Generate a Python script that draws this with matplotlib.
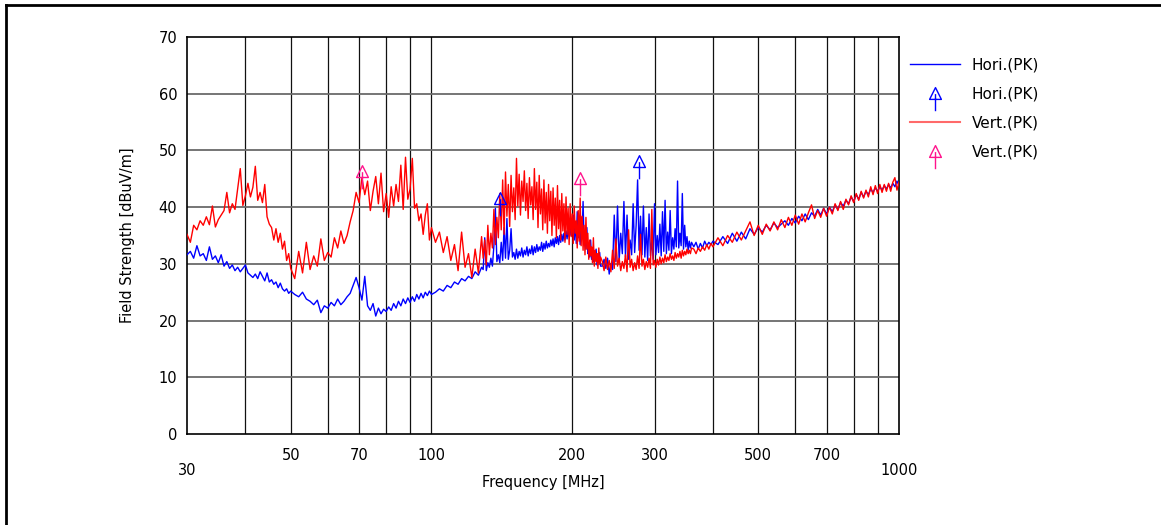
import numpy as np
import matplotlib
matplotlib.use('Agg')
import matplotlib.pyplot as plt
from matplotlib.path import Path
from matplotlib.lines import Line2D

# ---- sweep data, split by band ----
# 30-50 MHz
freq_a = [30.0, 30.5, 31.0, 31.5, 32.0, 32.5, 33.0, 33.5, 34.0, 34.5, 35.0, 35.5, 36.0, 36.5,
          37.0, 37.5, 38.0, 38.5, 39.0, 39.5, 40.0, 40.5, 41.0, 41.5, 42.0, 42.5, 43.0, 43.5,
          44.0, 44.5, 45.0, 45.5, 46.0, 46.5, 47.0, 47.5, 48.0, 48.5, 49.0, 49.5, 50.0]
hori_a = [31.6, 32.2, 31.0, 33.2, 31.4, 31.8, 30.6, 33.0, 30.8, 31.4, 30.2, 31.6, 29.6, 30.4,
          29.2, 29.8, 28.8, 29.4, 28.6, 29.2, 29.8, 28.4, 28.0, 27.6, 28.2, 27.4, 28.6, 27.8,
          27.0, 28.4, 26.8, 27.2, 26.4, 26.8, 25.8, 26.6, 25.6, 25.2, 25.6, 24.8, 25.2]
vert_a = [35.2, 33.8, 36.8, 36.0, 37.6, 36.8, 38.3, 36.9, 40.2, 36.5, 37.8, 38.6, 39.4, 42.6,
          39.0, 40.6, 39.6, 43.2, 46.8, 40.3, 42.0, 44.2, 41.8, 43.5, 47.2, 41.2, 42.6, 40.8,
          44.0, 38.3, 37.0, 36.4, 34.2, 36.2, 33.8, 35.4, 32.6, 34.0, 30.6, 31.8, 29.2]

# 51-100 MHz
freq_b = [51, 52, 53, 54, 55, 56, 57, 58, 59, 60, 61, 62, 63, 64, 65, 66, 67, 68, 69, 70,
          71, 72, 73, 74, 75, 76, 77, 78, 79, 80, 81, 82, 83, 84, 85, 86, 87, 88, 89, 90,
          91, 92, 93, 94, 95, 96, 97, 98, 99, 100]
hori_b = [24.6, 24.2, 25.0, 23.8, 23.4, 22.8, 23.6, 21.4, 22.6, 22.2, 23.2, 22.6, 23.8, 22.8,
          23.4, 24.2, 24.8, 26.2, 27.6, 25.8, 23.6, 27.8, 22.6, 21.8, 23.0, 20.8, 22.2, 21.2,
          22.0, 21.6, 22.4, 21.8, 23.0, 22.2, 23.4, 22.6, 23.8, 23.0, 24.0, 23.2, 24.2, 23.4,
          24.6, 23.8, 24.8, 24.0, 25.0, 24.4, 25.2, 24.6]
vert_b = [27.4, 32.2, 28.4, 33.8, 29.0, 31.4, 29.6, 34.4, 30.6, 32.0, 31.2, 34.6, 32.8, 35.8,
          33.6, 35.0, 37.4, 39.4, 42.6, 40.8, 45.2, 42.2, 44.6, 39.4, 42.8, 45.4, 40.6, 46.0,
          39.2, 42.4, 38.2, 43.6, 40.2, 44.0, 41.0, 47.4, 39.6, 48.8, 41.4, 43.2, 48.6, 39.8,
          40.6, 37.6, 38.8, 35.2, 38.6, 40.6, 34.2, 36.4]

# 102-128 MHz
freq_c = [102, 104, 106, 108, 110, 112, 114, 116, 118, 120, 122, 124, 126, 128]
hori_c = [25.0, 25.6, 25.2, 26.2, 25.8, 26.8, 26.4, 27.4, 27.0, 27.8, 27.4, 28.6, 28.0, 29.4]
vert_c = [33.8, 35.6, 32.0, 34.8, 30.6, 33.4, 28.8, 35.6, 29.4, 31.8, 27.6, 32.6, 28.4, 34.8]

# 129-230 MHz
freq_d = [129, 130, 131, 132, 133, 134, 135, 136, 137, 138, 139, 140,
          141, 142, 143, 144, 145, 146, 147, 148, 149, 150, 151, 152,
          153, 154, 155, 156, 157, 158, 159, 160, 161, 162, 163, 164,
          165, 166, 167, 168, 169, 170, 171, 172, 173, 174, 175, 176,
          177, 178, 179, 180, 181, 182, 183, 184, 185, 186, 187, 188,
          189, 190, 191, 192, 193, 194, 195, 196, 197, 198, 199, 200,
          201, 202, 203, 204, 205, 206, 207, 208, 209, 210, 211, 212,
          213, 214, 215, 216, 217, 218, 219, 220, 221, 222, 223, 224,
          225, 226, 227, 228, 229, 230]
hori_d = [29.0, 34.6, 28.8, 30.2, 29.4, 31.0, 29.6, 33.2, 39.8, 30.4, 31.6, 30.2,
          33.8, 30.6, 36.4, 31.0, 38.0, 30.8, 32.4, 36.2, 31.2, 32.0, 30.8, 32.6,
          31.0, 32.2, 31.4, 32.8, 31.2, 32.4, 31.6, 33.0, 31.4, 32.6, 31.8, 33.2,
          31.6, 33.0, 32.0, 33.4, 32.2, 33.0, 32.4, 33.8, 32.2, 33.6, 32.6, 34.0,
          32.8, 33.6, 33.0, 34.2, 33.2, 34.4, 33.0, 34.6, 33.6, 34.8, 33.4, 35.0,
          33.8, 35.2, 34.0, 35.4, 34.2, 35.8, 34.4, 36.0, 34.8, 36.6, 35.0, 35.4,
          38.6, 34.2, 37.4, 33.6, 39.2, 34.6, 36.0, 33.4, 38.2, 35.2, 41.0, 33.8,
          35.6, 32.6, 36.4, 31.8, 33.6, 31.2, 34.2, 30.8, 32.8, 30.4, 31.6, 30.8,
          32.6, 29.8, 31.4, 30.2, 32.0, 29.6]
vert_d = [31.0, 34.2, 29.8, 36.8, 31.6, 35.4, 32.8, 39.6, 33.4, 38.2, 34.6, 42.4,
          36.0, 44.8, 35.2, 46.2, 38.4, 44.0, 36.6, 45.6, 39.2, 43.4, 37.8, 48.6,
          40.2, 45.8, 38.6, 44.6, 41.0, 46.4, 39.4, 44.2, 38.0, 45.2, 40.4, 43.6,
          37.8, 46.8, 39.6, 44.4, 36.4, 45.6, 38.8, 43.2, 36.0, 44.8, 37.2, 42.6,
          35.4, 44.0, 37.6, 42.8, 35.0, 43.4, 36.8, 41.6, 34.6, 43.8, 36.2, 41.2,
          34.2, 42.4, 35.8, 40.6, 33.8, 41.8, 35.2, 39.8, 33.4, 40.6, 34.8, 38.8,
          33.6, 40.2, 35.4, 37.6, 32.8, 39.4, 34.0, 41.6, 33.2, 38.4, 32.4, 36.8,
          31.6, 38.2, 32.6, 35.4, 30.8, 34.2, 31.4, 33.0, 30.2, 34.6, 29.6, 32.4,
          30.4, 31.8, 29.2, 32.8, 30.0, 31.2]

# 232-360 MHz
freq_e = [232, 234, 236, 238, 240, 242, 244, 246, 248, 250, 252, 254, 256, 258, 260,
          262, 264, 266, 268, 270, 272, 274, 276, 278, 280, 282, 284, 286, 288, 290,
          292, 294, 296, 298, 300, 302, 304, 306, 308, 310, 312, 314, 316, 318, 320,
          322, 324, 326, 328, 330, 332, 334, 336, 338, 340, 342, 344, 346, 348, 350,
          352, 354, 356, 358, 360]
hori_e = [29.6, 30.8, 29.2, 31.0, 28.2, 30.0, 29.0, 38.6, 30.4, 40.2, 30.6, 35.4, 31.8, 41.0, 31.2,
          38.6, 30.8, 34.2, 31.6, 40.6, 32.0, 36.8, 44.8, 32.4, 38.4, 31.6, 40.2, 31.2, 36.4, 30.6,
          38.8, 31.4, 34.2, 30.8, 40.6, 31.6, 35.0, 32.0, 37.0, 31.4, 39.2, 32.2, 41.2, 31.8, 35.6,
          32.4, 39.4, 31.8, 34.6, 32.6, 36.2, 33.0, 44.6, 32.8, 35.4, 33.2, 42.4, 32.6, 36.8, 33.0,
          34.8, 32.4, 34.0, 32.8, 33.8]
vert_e = [30.4, 28.8, 31.2, 29.0, 30.6, 28.6, 32.4, 29.2, 34.4, 29.6, 31.0, 28.8, 30.4, 29.2, 31.6,
          28.6, 36.0, 29.4, 30.8, 28.8, 30.2, 29.0, 31.4, 29.2, 35.2, 29.6, 30.8, 29.0, 30.4, 29.4,
          31.0, 29.2, 39.6, 29.8, 30.6, 29.4, 30.8, 29.8, 31.2, 30.0, 31.0, 30.2, 31.6, 30.4, 31.2,
          30.6, 31.8, 30.8, 31.4, 30.6, 32.0, 31.0, 31.8, 31.2, 32.2, 31.0, 32.4, 31.4, 32.2, 31.6,
          32.6, 31.8, 32.4, 31.8, 32.8]

# 364-400 MHz
freq_f = [364, 368, 372, 376, 380, 384, 388, 392, 396, 400]
hori_f = [33.0, 33.8, 32.6, 33.6, 32.8, 34.0, 33.2, 33.8, 33.4, 34.0]
vert_f = [32.6, 31.8, 32.8, 32.2, 33.0, 32.4, 33.4, 32.6, 33.6, 33.0]

# 410-1000 MHz
freq_g = [410, 420, 430, 440, 450, 460, 470, 480, 490, 500, 510, 520, 530, 540, 550,
          560, 570, 580, 590, 600, 610, 620, 630, 640, 650, 660, 670, 680, 690, 700,
          710, 720, 730, 740, 750, 760, 770, 780, 790, 800, 810, 820, 830, 840, 850,
          860, 870, 880, 890, 900, 910, 920, 930, 940, 950, 960, 970, 980, 990, 1000]
hori_g = [33.4, 34.8, 33.6, 35.4, 34.0, 35.6, 34.4, 36.2, 35.2, 36.4, 35.6, 36.8, 36.0, 37.2, 36.4,
          37.0, 37.6, 36.8, 38.0, 37.2, 38.4, 37.6, 38.8, 37.8, 39.0, 38.4, 39.6, 38.6, 39.8, 38.8,
          40.0, 39.2, 40.4, 39.6, 40.8, 40.2, 41.2, 40.6, 41.8, 41.0, 42.2, 41.4, 42.6, 41.8, 42.8,
          42.2, 43.2, 42.6, 43.4, 42.8, 43.6, 43.0, 43.8, 43.2, 44.0, 43.4, 44.2, 43.6, 44.6, 43.8]
vert_g = [34.6, 33.2, 35.0, 33.8, 35.6, 34.2, 35.8, 37.4, 35.0, 36.8, 35.2, 37.0, 35.8, 37.4, 36.0,
          37.8, 36.4, 38.2, 36.8, 38.6, 37.0, 38.8, 37.4, 39.0, 40.4, 38.0, 39.4, 38.2, 39.8, 38.4,
          40.0, 38.8, 40.6, 39.4, 41.0, 39.6, 41.4, 40.4, 42.0, 40.8, 42.4, 41.2, 42.8, 41.6, 43.0,
          41.8, 43.6, 42.2, 43.8, 42.4, 44.0, 42.6, 44.0, 42.8, 44.2, 42.8, 44.4, 45.2, 43.0, 44.4]

# peak markers
hori_mk_freq = [140, 278]
hori_mk_level = [40.5, 47.1]
vert_mk_freq = [71, 208]
vert_mk_level = [45.4, 44.0]

x_ticks = [50, 70, 100, 200, 300, 500, 700]
x_grid = [40, 50, 60, 70, 80, 90, 100, 200, 300, 400, 500, 600, 700, 800, 900]
y_ticks = [0, 10, 20, 30, 40, 50, 60, 70]

freq_mhz = freq_a + freq_b + freq_c + freq_d + freq_e + freq_f + freq_g
hori_pk = hori_a + hori_b + hori_c + hori_d + hori_e + hori_f + hori_g
vert_pk = vert_a + vert_b + vert_c + vert_d + vert_e + vert_f + vert_g

BLUE = '#0000ff'
RED = '#ff0000'
PINK = '#ff148c'
FS = 10.5

# arrow marker: open triangle with a stem, origin at the triangle base
arrow = Path([(-0.5, 0), (0, 1), (0.5, 0), (-0.5, 0), (0, 0.45), (0, -1)],
             [Path.MOVETO, Path.LINETO, Path.LINETO, Path.CLOSEPOLY, Path.MOVETO, Path.LINETO])
# same glyph for the legend, centred a little lower on the text line
arrow_leg = Path([(-0.5, -0.5), (0, 0.5), (0.5, -0.5), (-0.5, -0.5), (0, -0.05), (0, -1.5)],
                 [Path.MOVETO, Path.LINETO, Path.LINETO, Path.CLOSEPOLY, Path.MOVETO, Path.LINETO])

plt.rcParams['font.family'] = 'DejaVu Sans'
fig = plt.figure(figsize=(11.61, 5.25), dpi=100)
ax = fig.add_axes([187 / 1161, 1 - 434 / 525, 712 / 1161, 397 / 525])

ax.set_xscale('log')
ax.set_xlim(30, 1000)
ax.set_ylim(0, 70)

for f in x_grid:
    ax.axvline(f, color='#111111', lw=0.9, zorder=1)
for v in y_ticks[1:-1]:
    ax.axhline(v, color='#6a6a6a', lw=1.3, zorder=1)

ax.plot(freq_mhz, hori_pk, color=BLUE, lw=1.0, zorder=3)
ax.plot(freq_mhz, vert_pk, color=RED, lw=1.0, zorder=4)
ax.plot(hori_mk_freq, hori_mk_level, ls='none', marker=arrow, ms=17, mec=BLUE,
        mfc='none', mew=1.0, zorder=5)
ax.plot(vert_mk_freq, vert_mk_level, ls='none', marker=arrow, ms=17, mec=PINK,
        mfc='none', mew=1.0, zorder=5)

ax.minorticks_off()
ax.set_xticks(x_ticks)
ax.set_xticklabels([str(t) for t in x_ticks])
ax.set_yticks(y_ticks)
ax.tick_params(axis='both', length=0, labelsize=FS)
ax.tick_params(axis='x', pad=10)
ax.tick_params(axis='y', pad=7)
xt = ax.get_xaxis_transform()
ax.text(30, -0.093, '30', transform=xt, ha='center', va='center', fontsize=FS)
ax.text(1000, -0.093, '1000', transform=xt, ha='center', va='center', fontsize=FS)

ax.set_xlabel('Frequency [MHz]', fontsize=FS)
ax.xaxis.set_label_coords(0.5, -0.103)
ax.set_ylabel('Field Strength [dBuV/m]', fontsize=FS)
ax.yaxis.set_label_coords(-0.073, 0.5)

for s in ax.spines.values():
    s.set_color('black')
    s.set_linewidth(1.2)

handles = [
    Line2D([], [], color=BLUE, lw=1.0),
    Line2D([], [], ls='none', marker=arrow_leg, ms=25.5, mec=BLUE, mfc='none', mew=1.0),
    Line2D([], [], color='#ff6a6a', lw=1.5),
    Line2D([], [], ls='none', marker=arrow_leg, ms=25.5, mec=PINK, mfc='none', mew=1.0),
]
labels = ['Hori.(PK)', 'Hori.(PK)', 'Vert.(PK)', 'Vert.(PK)']
fig.legend(handles, labels, loc='upper left', bbox_to_anchor=(910 / 1161, 1 - 57 / 525),
           frameon=False, fontsize=11, handlelength=3.3, handletextpad=0.75,
           labelspacing=0.92, borderaxespad=0, borderpad=0)

# outer frame (top and left edges visible)
fig.add_artist(Line2D([6 / 1161, 1], [1 - 4.5 / 525, 1 - 4.5 / 525], color='black', lw=2))
fig.add_artist(Line2D([6 / 1161, 6 / 1161], [0, 1 - 4.5 / 525], color='black', lw=2))

fig.savefig('out.png', dpi=100)
